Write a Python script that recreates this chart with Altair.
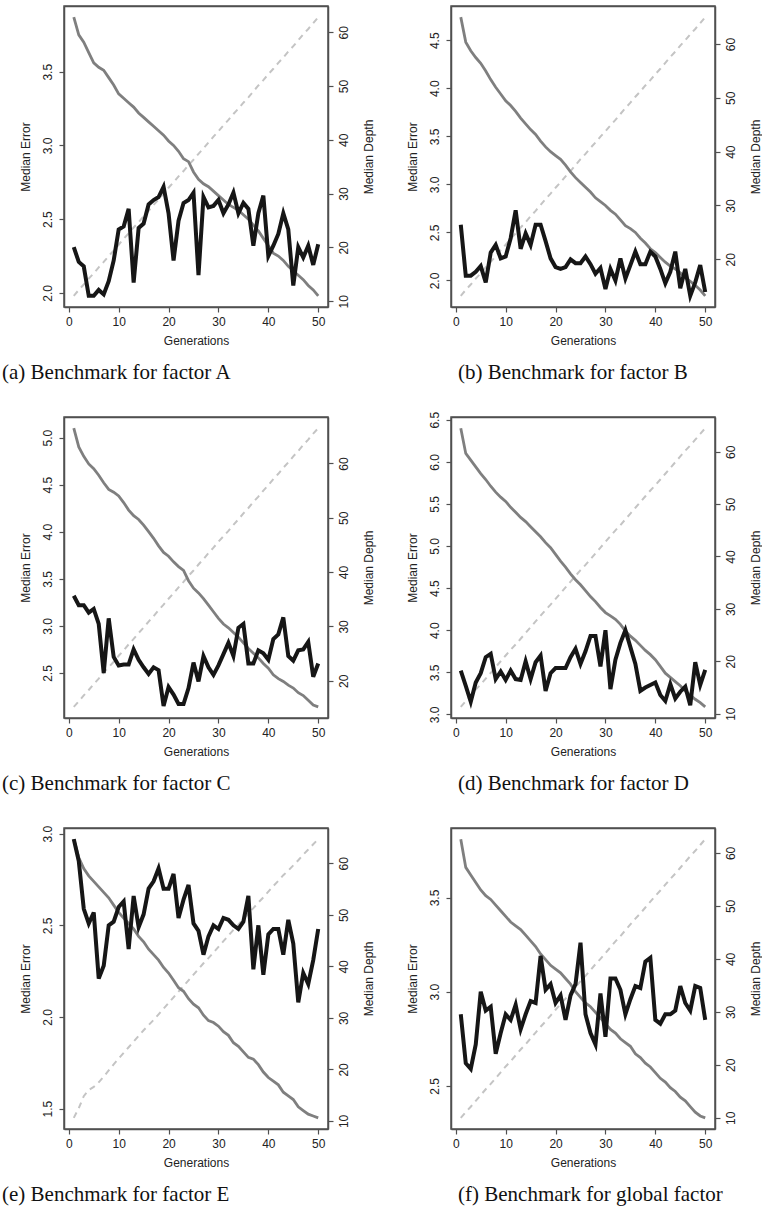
import altair as alt
import pandas as pd

generations = list(range(1, 51))

# (a) factor A
black_a = [2.31, 2.21, 2.18, 1.98, 1.98, 2.02, 1.99, 2.08, 2.22, 2.43,
           2.45, 2.57, 2.07, 2.44, 2.47, 2.60, 2.63, 2.65, 2.72, 2.54,
           2.22, 2.49, 2.61, 2.63, 2.68, 2.12, 2.65, 2.58, 2.59, 2.63,
           2.54, 2.60, 2.68, 2.54, 2.61, 2.57, 2.32, 2.54, 2.66, 2.25,
           2.32, 2.40, 2.54, 2.43, 2.05, 2.31, 2.24, 2.32, 2.19, 2.33]
gray_a = [3.87, 3.75, 3.70, 3.63, 3.56, 3.53, 3.51, 3.46, 3.41, 3.35,
          3.32, 3.29, 3.26, 3.22, 3.19, 3.16, 3.13, 3.10, 3.07, 3.03,
          3.00, 2.96, 2.91, 2.89, 2.82, 2.77, 2.74, 2.72, 2.69, 2.66,
          2.63, 2.60, 2.58, 2.56, 2.53, 2.50, 2.46, 2.42, 2.37, 2.32,
          2.27, 2.25, 2.22, 2.18, 2.15, 2.12, 2.09, 2.05, 2.02, 1.98]
depth_a = [11.0, 12.1, 13.1, 14.2, 15.2, 16.3, 17.3, 18.4, 19.4, 20.5,
           21.6, 22.6, 23.7, 24.7, 25.8, 26.8, 27.9, 28.9, 30.0, 31.1,
           32.1, 33.2, 34.2, 35.3, 36.3, 37.4, 38.4, 39.5, 40.6, 41.6,
           42.7, 43.7, 44.8, 45.8, 46.9, 47.9, 49.0, 50.1, 51.1, 52.2,
           53.2, 54.3, 55.3, 56.4, 57.4, 58.5, 59.6, 60.6, 61.7, 62.8]

# (b) factor B
black_b = [2.58, 2.05, 2.05, 2.09, 2.15, 1.98, 2.29, 2.37, 2.23, 2.25,
           2.44, 2.73, 2.33, 2.49, 2.37, 2.58, 2.58, 2.41, 2.23, 2.14,
           2.12, 2.14, 2.22, 2.18, 2.18, 2.25, 2.17, 2.07, 2.13, 1.91,
           2.12, 2.00, 2.23, 2.02, 2.16, 2.30, 2.17, 2.17, 2.30, 2.25,
           2.12, 1.97, 2.09, 2.30, 1.92, 2.12, 1.84, 1.98, 2.16, 1.88]
gray_b = [4.74, 4.48, 4.39, 4.32, 4.26, 4.18, 4.09, 4.01, 3.94, 3.87,
          3.82, 3.76, 3.69, 3.63, 3.57, 3.52, 3.45, 3.39, 3.34, 3.30,
          3.26, 3.20, 3.13, 3.07, 3.02, 2.97, 2.92, 2.86, 2.82, 2.78,
          2.73, 2.69, 2.63, 2.57, 2.54, 2.50, 2.44, 2.39, 2.33, 2.29,
          2.24, 2.19, 2.15, 2.12, 2.08, 2.03, 1.99, 1.95, 1.90, 1.84]
depth_b = [13.2, 14.3, 15.3, 16.4, 17.4, 18.5, 19.5, 20.6, 21.7, 22.7,
           23.8, 24.8, 25.9, 26.9, 28.0, 29.0, 30.1, 31.2, 32.2, 33.3,
           34.3, 35.4, 36.4, 37.5, 38.6, 39.6, 40.7, 41.7, 42.8, 43.8,
           44.9, 45.9, 47.0, 48.1, 49.1, 50.2, 51.2, 52.3, 53.3, 54.4,
           55.4, 56.5, 57.6, 58.6, 59.7, 60.7, 61.8, 62.8, 63.9, 65.0]

# (c) factor C
black_c = [3.32, 3.22, 3.22, 3.14, 3.18, 3.02, 2.50, 3.08, 2.67, 2.58,
           2.59, 2.59, 2.75, 2.64, 2.56, 2.49, 2.56, 2.53, 2.15, 2.35,
           2.27, 2.17, 2.17, 2.34, 2.61, 2.41, 2.68, 2.56, 2.48, 2.58,
           2.70, 2.82, 2.68, 2.98, 3.02, 2.60, 2.60, 2.74, 2.71, 2.64,
           2.86, 2.91, 3.09, 2.68, 2.63, 2.74, 2.75, 2.83, 2.46, 2.60]
gray_c = [5.10, 4.90, 4.80, 4.72, 4.67, 4.60, 4.52, 4.45, 4.42, 4.38,
          4.31, 4.23, 4.17, 4.13, 4.07, 4.00, 3.93, 3.85, 3.78, 3.74,
          3.68, 3.63, 3.59, 3.48, 3.40, 3.35, 3.29, 3.22, 3.15, 3.08,
          3.02, 2.98, 2.93, 2.88, 2.82, 2.76, 2.71, 2.66, 2.60, 2.55,
          2.48, 2.44, 2.41, 2.37, 2.34, 2.29, 2.26, 2.21, 2.16, 2.14]
depth_c = [15.2, 16.2, 17.3, 18.3, 19.4, 20.4, 21.5, 22.5, 23.5, 24.6,
           25.6, 26.7, 27.7, 28.8, 29.8, 30.9, 31.9, 33.0, 34.0, 35.1,
           36.1, 37.2, 38.2, 39.3, 40.3, 41.4, 42.4, 43.5, 44.5, 45.6,
           46.6, 47.6, 48.7, 49.7, 50.8, 51.8, 52.9, 53.9, 55.0, 56.0,
           57.1, 58.1, 59.2, 60.2, 61.3, 62.3, 63.4, 64.4, 65.5, 66.5]

# (d) factor D
black_d = [3.52, 3.34, 3.15, 3.38, 3.49, 3.68, 3.72, 3.42, 3.51, 3.41,
           3.52, 3.42, 3.41, 3.63, 3.42, 3.62, 3.70, 3.28, 3.49, 3.55,
           3.55, 3.55, 3.68, 3.78, 3.60, 3.75, 3.93, 3.93, 3.57, 4.00,
           3.30, 3.65, 3.85, 4.00, 3.80, 3.60, 3.28, 3.32, 3.35, 3.38,
           3.23, 3.16, 3.36, 3.19, 3.27, 3.33, 3.11, 3.62, 3.35, 3.53]
gray_d = [6.40, 6.10, 6.02, 5.94, 5.86, 5.79, 5.71, 5.64, 5.58, 5.53,
          5.46, 5.40, 5.34, 5.29, 5.23, 5.17, 5.11, 5.04, 4.98, 4.90,
          4.82, 4.75, 4.67, 4.60, 4.54, 4.47, 4.40, 4.34, 4.27, 4.21,
          4.17, 4.13, 4.07, 3.99, 3.93, 3.88, 3.82, 3.76, 3.71, 3.65,
          3.57, 3.49, 3.44, 3.39, 3.34, 3.28, 3.23, 3.18, 3.14, 3.09]
depth_d = [11.3, 12.4, 13.5, 14.6, 15.6, 16.7, 17.8, 18.9, 20.0, 21.1,
           22.2, 23.2, 24.3, 25.4, 26.5, 27.6, 28.7, 29.8, 30.8, 31.9,
           33.0, 34.1, 35.2, 36.3, 37.4, 38.4, 39.5, 40.6, 41.7, 42.8,
           43.9, 45.0, 46.0, 47.1, 48.2, 49.3, 50.4, 51.5, 52.6, 53.6,
           54.7, 55.8, 56.9, 58.0, 59.1, 60.2, 61.2, 62.3, 63.4, 64.5]

# (e) factor E
black_e = [2.97, 2.85, 2.59, 2.51, 2.57, 2.21, 2.28, 2.50, 2.52, 2.60,
           2.63, 2.37, 2.66, 2.49, 2.56, 2.70, 2.74, 2.81, 2.70, 2.70,
           2.78, 2.54, 2.64, 2.72, 2.51, 2.47, 2.34, 2.44, 2.50, 2.48,
           2.54, 2.53, 2.50, 2.48, 2.52, 2.66, 2.26, 2.50, 2.23, 2.45,
           2.48, 2.48, 2.34, 2.53, 2.40, 2.08, 2.24, 2.18, 2.31, 2.48]
gray_e = [2.97, 2.87, 2.81, 2.77, 2.74, 2.71, 2.68, 2.65, 2.61, 2.57,
          2.54, 2.51, 2.48, 2.44, 2.41, 2.37, 2.34, 2.31, 2.27, 2.24,
          2.20, 2.16, 2.14, 2.10, 2.07, 2.05, 2.01, 1.98, 1.97, 1.95,
          1.92, 1.90, 1.86, 1.84, 1.81, 1.78, 1.77, 1.74, 1.70, 1.67,
          1.65, 1.63, 1.59, 1.57, 1.55, 1.51, 1.49, 1.47, 1.46, 1.45]
depth_e = [10.6, 12.5, 14.8, 16.0, 16.6, 17.5, 18.6, 19.8, 21.0, 22.1,
           23.2, 24.3, 25.4, 26.5, 27.6, 28.6, 29.6, 30.7, 31.8, 32.9,
           34.0, 35.1, 36.2, 37.3, 38.4, 39.5, 40.6, 41.6, 42.7, 43.8,
           44.9, 46.0, 47.1, 48.1, 49.2, 50.3, 51.3, 52.4, 53.4, 54.5,
           55.6, 56.6, 57.7, 58.6, 59.6, 60.6, 61.7, 62.7, 63.7, 64.7]

# (f) global factor
black_f = [2.88, 2.62, 2.59, 2.72, 3.00, 2.90, 2.92, 2.67, 2.78, 2.88,
           2.85, 2.93, 2.80, 2.88, 2.95, 2.94, 3.19, 3.01, 3.04, 2.94,
           2.98, 2.85, 2.98, 3.04, 3.26, 2.88, 2.78, 2.72, 2.99, 2.76,
           3.07, 3.07, 3.01, 2.88, 2.96, 3.03, 3.02, 3.16, 3.18, 2.85,
           2.83, 2.88, 2.88, 2.90, 3.03, 2.94, 2.90, 3.03, 3.02, 2.85]
gray_f = [3.81, 3.66, 3.62, 3.58, 3.54, 3.51, 3.49, 3.46, 3.43, 3.40,
          3.37, 3.35, 3.33, 3.30, 3.27, 3.24, 3.20, 3.17, 3.14, 3.12,
          3.10, 3.07, 3.04, 3.00, 2.97, 2.94, 2.92, 2.89, 2.86, 2.83,
          2.80, 2.78, 2.75, 2.73, 2.71, 2.67, 2.65, 2.62, 2.60, 2.57,
          2.54, 2.52, 2.49, 2.47, 2.44, 2.42, 2.39, 2.36, 2.34, 2.33]
depth_f = [10.0, 11.1, 12.1, 13.2, 14.3, 15.4, 16.4, 17.5, 18.6, 19.7,
           20.7, 21.8, 22.9, 23.9, 25.0, 26.1, 27.2, 28.2, 29.3, 30.4,
           31.5, 32.5, 33.6, 34.7, 35.8, 36.8, 37.9, 39.0, 40.0, 41.1,
           42.2, 43.3, 44.3, 45.4, 46.5, 47.6, 48.6, 49.7, 50.8, 51.9,
           52.9, 54.0, 55.1, 56.1, 57.2, 58.3, 59.4, 60.4, 61.5, 62.6]

captions = ["(a) Benchmark for factor A", "(b) Benchmark for factor B",
            "(c) Benchmark for factor C", "(d) Benchmark for factor D",
            "(e) Benchmark for factor E", "(f) Benchmark for global factor"]
x_ticks = [0, 10, 20, 30, 40, 50]
left_ticks = [[2.0, 2.5, 3.0, 3.5],
              [2.0, 2.5, 3.0, 3.5, 4.0, 4.5],
              [2.5, 3.0, 3.5, 4.0, 4.5, 5.0],
              [3.0, 3.5, 4.0, 4.5, 5.0, 5.5, 6.0, 6.5],
              [1.5, 2.0, 2.5, 3.0],
              [2.5, 3.0, 3.5]]
right_ticks = [[10, 20, 30, 40, 50, 60],
               [20, 30, 40, 50, 60],
               [20, 30, 40, 50, 60],
               [10, 20, 30, 40, 50, 60],
               [10, 20, 30, 40, 50, 60],
               [10, 20, 30, 40, 50, 60]]

SANS = "Liberation Sans"
SERIF = "Liberation Serif"
PW, PH = 264, 301
FRAME = "#505050"
FRAME_W = 1.5


def r_domain(values):
    lo, hi = min(values), max(values)
    pad = 0.04 * (hi - lo)
    return [lo - pad, hi + pad]


x_dom = r_domain(generations)


def panel(black, gray, depth, caption, lticks, rticks, dx):
    df = pd.DataFrame({"gen": generations, "err": black, "gray": gray, "depth": depth})
    base = alt.Chart(df)
    xscale = alt.Scale(domain=x_dom, nice=False, zero=False)
    xenc = alt.X("gen:Q", scale=xscale,
                 axis=alt.Axis(values=x_ticks, title="Generations", labelAngle=0,
                               labelPadding=4, titlePadding=8))
    xtop = alt.X("gen:Q", scale=xscale,
                 axis=alt.Axis(orient="top", labels=False, ticks=False, title=None,
                               domain=True))
    ldom = r_domain(black + gray)
    laxis = alt.Axis(orient="left", values=lticks, format=".1f", title="Median Error",
                     labelAngle=270, labelAlign="center", labelBaseline="bottom",
                     labelPadding=5, titlePadding=9)
    raxis = alt.Axis(orient="right", values=rticks, format="d", title="Median Depth",
                     labelAngle=270, labelAlign="center", labelBaseline="top",
                     labelPadding=5, titlePadding=14, titleAngle=270, titleBaseline="top")
    dashed = base.mark_line(color="#c4c4c4", strokeWidth=2, strokeDash=[6, 5]).encode(
        x=xtop,
        y=alt.Y("depth:Q", scale=alt.Scale(domain=r_domain(depth), nice=False, zero=False),
                axis=raxis))
    lscale = alt.Scale(domain=ldom, nice=False, zero=False)
    grayl = base.mark_line(color="#7f7f7f", strokeWidth=2.8).encode(
        x=xenc, y=alt.Y("gray:Q", scale=lscale, axis=laxis))
    blackl = base.mark_line(color="#161616", strokeWidth=4).encode(
        x=xenc, y=alt.Y("err:Q", scale=lscale, axis=laxis))
    left = alt.layer(grayl, blackl)
    return alt.layer(dashed, left).resolve_scale(x="independent", y="independent").properties(
        width=PW, height=PH,
        view=alt.ViewBackground(stroke=FRAME, strokeWidth=FRAME_W, fill="white"),
        title=alt.TitleParams(text=caption, orient="bottom", anchor="start", frame="group",
                              dx=dx, offset=16, font=SERIF, fontSize=21,
                              fontWeight="normal", color="#111"))


blacks = [black_a, black_b, black_c, black_d, black_e, black_f]
grays = [gray_a, gray_b, gray_c, gray_d, gray_e, gray_f]
depths = [depth_a, depth_b, depth_c, depth_d, depth_e, depth_f]

panels = []
for i in range(6):
    dx = -62 if i % 2 == 0 else 7
    panels.append(panel(blacks[i], grays[i], depths[i], captions[i],
                        left_ticks[i], right_ticks[i], dx))

chart = alt.concat(*panels, columns=2, spacing={"row": 110, "column": 123}, bounds="flush").properties(
    padding={"left": 1, "top": 5, "right": 0, "bottom": 0},
    background="white"
).configure_view(stroke=FRAME, strokeWidth=FRAME_W).configure_axis(
    labelFont=SANS, labelFontSize=12, labelColor="#222",
    titleFont=SANS, titleFontSize=12, titleFontWeight="normal", titleColor="#222",
    domain=True, domainColor=FRAME, domainWidth=FRAME_W,
    grid=False, tickColor=FRAME, tickSize=5, tickWidth=1.2
)

chart.save("out.html", embed_options={"renderer": "svg", "actions": False})
